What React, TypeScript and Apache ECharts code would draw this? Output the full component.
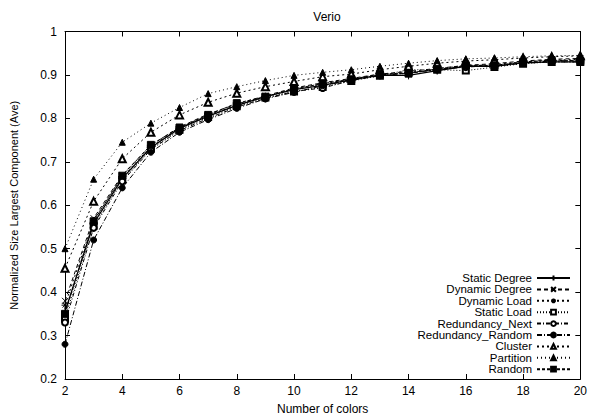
import React, { useEffect, useRef } from "react";
import * as echarts from "echarts";

const xValues = [2, 3, 4, 5, 6, 7, 8, 9, 10, 11, 12, 13, 14, 15, 16, 17, 18, 19, 20];
const yTicks = [0.2, 0.3, 0.4, 0.5, 0.6, 0.7, 0.8, 0.9, 1];

const staticDegree = [0.355, 0.558, 0.662, 0.733, 0.777, 0.805, 0.83, 0.85, 0.866, 0.876, 0.889, 0.899, 0.899, 0.91, 0.92, 0.92, 0.928, 0.93, 0.93];
const dynamicDegree = [0.38, 0.57, 0.67, 0.738, 0.78, 0.81, 0.833, 0.852, 0.87, 0.882, 0.892, 0.902, 0.908, 0.915, 0.922, 0.926, 0.932, 0.936, 0.938];
const dynamicLoad = [0.37, 0.565, 0.665, 0.735, 0.778, 0.808, 0.83, 0.85, 0.868, 0.879, 0.89, 0.9, 0.906, 0.912, 0.92, 0.924, 0.93, 0.934, 0.936];
const staticLoad = [0.34, 0.553, 0.658, 0.73, 0.774, 0.803, 0.828, 0.848, 0.862, 0.872, 0.886, 0.898, 0.912, 0.912, 0.91, 0.918, 0.926, 0.93, 0.93];
const redundancyNext = [0.33, 0.548, 0.655, 0.728, 0.772, 0.8, 0.826, 0.846, 0.862, 0.87, 0.887, 0.9, 0.905, 0.913, 0.918, 0.922, 0.928, 0.932, 0.934];
const redundancyRandom = [0.28, 0.52, 0.64, 0.722, 0.768, 0.797, 0.823, 0.845, 0.86, 0.875, 0.888, 0.898, 0.904, 0.912, 0.92, 0.92, 0.927, 0.93, 0.93];
const cluster = [0.455, 0.609, 0.707, 0.768, 0.808, 0.837, 0.858, 0.873, 0.885, 0.896, 0.902, 0.912, 0.92, 0.927, 0.932, 0.935, 0.939, 0.942, 0.944];
const partition = [0.5, 0.66, 0.745, 0.789, 0.825, 0.857, 0.873, 0.887, 0.899, 0.906, 0.912, 0.92, 0.927, 0.933, 0.937, 0.939, 0.942, 0.944, 0.945];
const random = [0.35, 0.563, 0.668, 0.739, 0.779, 0.808, 0.835, 0.85, 0.868, 0.88, 0.89, 0.902, 0.903, 0.914, 0.922, 0.922, 0.93, 0.934, 0.932];

const seriesNames = [
  "Static Degree",
  "Dynamic Degree",
  "Dynamic Load",
  "Static Load",
  "Redundancy_Next",
  "Redundancy_Random",
  "Cluster",
  "Partition",
  "Random",
];
const seriesValues = [staticDegree, dynamicDegree, dynamicLoad, staticLoad, redundancyNext, redundancyRandom, cluster, partition, random];

const PLUS = "path://M0,5L10,5M5,0L5,10";
const CROSS = "path://M0,0L10,10M10,0L0,10";
const STAR = "path://M0,5L10,5M5,0L5,10M1.5,1.5L8.5,8.5M8.5,1.5L1.5,8.5";

const styles: any[] = [
  { symbol: PLUS, size: 8, dash: "solid" },
  { symbol: CROSS, size: 6, dash: [4, 3] },
  { symbol: STAR, size: 7, dash: [2, 3] },
  { symbol: "emptyRect", size: 6, dash: [1, 2] },
  { symbol: "emptyCircle", size: 6, dash: [4, 2, 1, 2] },
  { symbol: "circle", size: 6, dash: [5, 2, 1, 2] },
  { symbol: "emptyTriangle", size: 7, dash: [2, 3] },
  { symbol: "triangle", size: 6, dash: [1, 3] },
  { symbol: "rect", size: 7, dash: [3, 2] },
];

const FONT = "Liberation Sans, Arial, Helvetica, sans-serif";

export default function App() {
  const ref = useRef<HTMLDivElement>(null);
  useEffect(() => {
    if (!ref.current) return;
    const chart = echarts.init(ref.current, null, { renderer: "svg" });
    const series = seriesNames.map((name, i) => ({
      name,
      type: "line",
      xAxisIndex: 0,
      yAxisIndex: 0,
      data: xValues.map((x, j) => [x, seriesValues[i][j]]),
      symbol: styles[i].symbol,
      symbolSize: styles[i].size,
      showAllSymbol: true,
      lineStyle: { color: "#000", width: i === 0 ? 1.3 : 1, type: styles[i].dash },
      itemStyle: { color: "#000", borderColor: "#000", borderWidth: 1 },
      emphasis: { disabled: true },
      z: 2 + i,
    }));
    const tickLabel = { fontFamily: FONT, fontSize: 12, color: "#000" };
    chart.setOption({
      animation: false,
      backgroundColor: "#fff",
      title: {
        text: "Verio",
        left: 322,
        textAlign: "center",
        top: 6,
        textStyle: { fontFamily: FONT, fontSize: 12, fontWeight: "normal", color: "#000" },
      },
      grid: { left: 63, right: 8, top: 31.5, bottom: 40 },
      legend: {
        orient: "vertical",
        right: 14,
        top: 267,
        align: "right",
        itemWidth: 33,
        itemHeight: 6,
        itemGap: -0.6,
        selectedMode: false,
        textStyle: { fontFamily: FONT, fontSize: 11.5, color: "#000", lineHeight: 11 },
        data: seriesNames,
      },
      xAxis: [
        {
          type: "value",
          min: 2,
          max: 20,
          interval: 2,
          name: "Number of colors",
          nameLocation: "middle",
          nameGap: 24,
          nameTextStyle: { fontFamily: FONT, fontSize: 12, color: "#000" },
          axisLine: { lineStyle: { color: "#000", width: 1 } },
          axisTick: { inside: true, length: 5, lineStyle: { color: "#000" } },
          axisLabel: { ...tickLabel, margin: 6 },
          splitLine: { show: false },
        },
        {
          type: "value",
          position: "top",
          min: 2,
          max: 20,
          interval: 2,
          axisLine: { show: true, lineStyle: { color: "#000", width: 1 } },
          axisTick: { show: true, inside: true, length: 5, lineStyle: { color: "#000" } },
          axisLabel: { show: false },
          splitLine: { show: false },
        },
      ],
      yAxis: [
        {
          type: "value",
          min: 0.2,
          max: 1,
          interval: 0.1,
          name: "Normalized Size Largest Component (Ave)",
          nameLocation: "middle",
          nameGap: 46,
          nameTextStyle: { fontFamily: FONT, fontSize: 11, color: "#000" },
          axisLine: { show: true, lineStyle: { color: "#000", width: 1 } },
          axisTick: { show: true, inside: true, length: 5, lineStyle: { color: "#000" } },
          axisLabel: {
            ...tickLabel,
            margin: 8,
            formatter: (v: number) => (Math.abs(v - 1) < 1e-9 ? "1" : v.toFixed(1)),
          },
          splitLine: { show: false },
        },
        {
          type: "value",
          position: "right",
          min: 0.2,
          max: 1,
          interval: 0.1,
          axisLine: { show: true, lineStyle: { color: "#000", width: 1 } },
          axisTick: { show: true, inside: true, length: 5, lineStyle: { color: "#000" } },
          axisLabel: { show: false },
          splitLine: { show: false },
        },
      ],
      series,
    });
    return () => chart.dispose();
  }, []);
  return <div ref={ref} style={{ width: 590, height: 420, position: "absolute", left: 0, top: 0 }} />;
}
